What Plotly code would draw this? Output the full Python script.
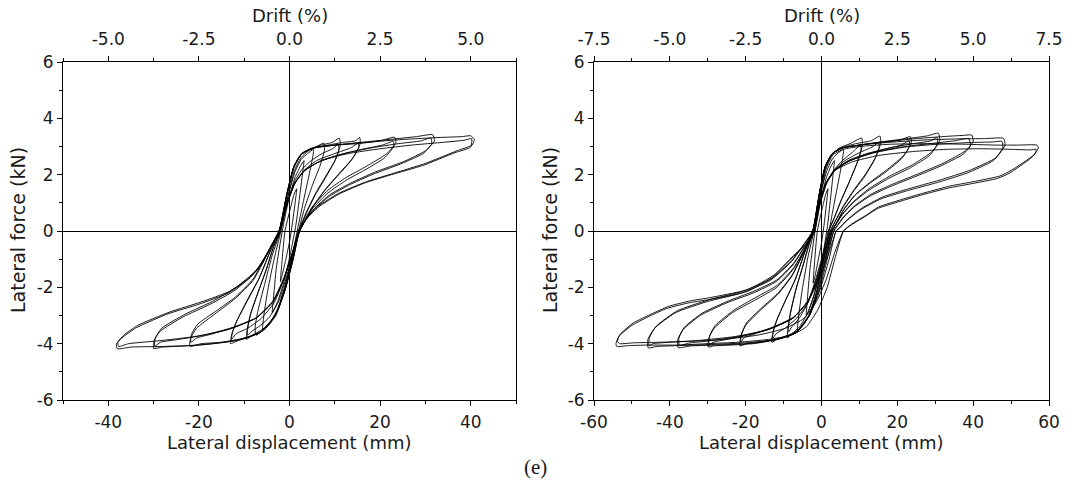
import plotly.graph_objects as go

# ---------------- Left specimen: hysteresis loops (displacement mm, force kN) ----------------
L1_x = [-1.0, 0.2, 1.0, 1.6, 1.4, 0.7, 0.1, -0.8, -1.6, -2.0, -1.8, -1.0]
L1_y = [0.0, 0.8, 1.3, 1.5, 1.2, 0.35, -0.3, -1.0, -1.55, -1.8, -1.35, 0.0]

L2_x = [-1.6, -0.2, 1.2, 2.4, 3.2, 3.0, 2.3, 1.4, 0.2, -1.2, -2.6, -3.8, -3.6, -2.9, -1.6]
L2_y = [0.0, 1.1, 1.9, 2.3, 2.5, 2.2, 1.3, 0.2, -0.8, -1.8, -2.5, -2.9, -2.5, -1.3, 0.0]

L3_x = [-1.9, -0.4, 1.2, 2.6, 4.0, 5.3, 5.1, 4.2, 3.0, 1.7, 0.4, -1.1, -2.7, -4.3, -5.9, -5.7, -4.8, -3.4, -1.9]
L3_y = [0.0, 1.2, 2.1, 2.55, 2.75, 2.9, 2.6, 1.9, 1.0, 0.0, -1.0, -2.0, -2.8, -3.25, -3.5, -3.05, -2.1, -1.0, 0.0]

L4_x = [-2.0, -0.5, 1.0, 2.5, 4.2, 6.0, 7.6, 7.7, 6.7, 5.0, 3.3, 2.0, 0.6, -0.9, -2.6, -4.4, -6.1, -7.4, -7.6, -7.0, -5.5, -3.8, -2.0]
L4_y = [0.0, 1.1, 2.1, 2.6, 2.85, 3.0, 3.12, 2.85, 2.3, 1.6, 0.8, 0.0, -1.0, -2.0, -2.8, -3.3, -3.55, -3.7, -3.45, -2.85, -1.9, -0.85, 0.0]

L5a_x = [-2.1, -0.6, 0.9, 2.5, 4.5, 7.0, 9.5, 11.0, 11.2, 10.2, 8.0, 5.8, 3.8, 2.0, 0.6, -0.8, -2.6, -4.5, -6.5, -8.3, -9.5, -9.4, -8.7, -7.2, -5.4, -3.6, -2.1]
L5a_y = [0.0, 1.2, 2.2, 2.7, 2.9, 3.05, 3.15, 3.3, 3.05, 2.55, 1.95, 1.35, 0.7, 0.0, -0.9, -1.9, -2.8, -3.3, -3.55, -3.7, -3.85, -3.55, -3.0, -2.3, -1.5, -0.6, 0.0]
L5b_x = [-2.0, -0.5, 1.1, 2.8, 4.8, 7.2, 9.5, 10.8, 10.9, 9.9, 7.8, 5.6, 3.7, 2.1, 0.8, -0.6, -2.4, -4.4, -6.4, -8.2, -9.3, -9.2, -8.5, -7.0, -5.2, -3.5, -2.0]
L5b_y = [0.0, 1.0, 1.75, 2.2, 2.5, 2.75, 2.92, 3.08, 2.9, 2.45, 1.85, 1.25, 0.62, 0.0, -0.75, -1.6, -2.5, -3.05, -3.35, -3.55, -3.7, -3.45, -2.9, -2.2, -1.4, -0.55, 0.0]

L6a_x = [-2.2, -0.6, 1.0, 2.6, 5.0, 8.5, 12.0, 14.5, 15.5, 15.6, 14.0, 11.0, 8.0, 5.3, 3.2, 2.0, 0.6, -1.0, -3.0, -5.5, -8.5, -11.5, -13.0, -12.8, -11.8, -9.5, -6.8, -4.2, -2.2]
L6a_y = [0.0, 1.3, 2.3, 2.75, 2.95, 3.05, 3.15, 3.2, 3.32, 3.1, 2.6, 2.05, 1.5, 0.9, 0.3, 0.0, -1.0, -2.1, -3.0, -3.5, -3.75, -3.9, -4.0, -3.7, -3.25, -2.5, -1.7, -0.7, 0.0]
L6b_x = [-2.2, -0.5, 1.2, 3.2, 6.0, 10.0, 13.5, 15.2, 15.3, 13.6, 10.6, 7.6, 5.0, 3.0, 2.1, 0.6, -1.2, -3.4, -6.2, -9.2, -11.8, -12.8, -12.6, -11.5, -9.2, -6.6, -4.1, -2.2]
L6b_y = [0.0, 0.95, 1.7, 2.15, 2.5, 2.75, 2.95, 3.12, 2.95, 2.5, 1.95, 1.4, 0.82, 0.25, 0.0, -0.8, -1.7, -2.55, -3.1, -3.45, -3.65, -3.85, -3.6, -3.15, -2.45, -1.65, -0.65, 0.0]

L7a_x = [-2.3, -0.6, 1.0, 2.8, 5.5, 10.0, 15.0, 20.0, 23.2, 23.5, 21.5, 17.0, 12.5, 8.5, 5.0, 3.0, 2.1, 0.8, -1.0, -3.2, -6.0, -10.0, -15.0, -19.5, -22.0, -21.8, -20.5, -16.5, -12.0, -8.0, -5.0, -2.3]
L7a_y = [0.0, 1.3, 2.3, 2.75, 2.95, 3.05, 3.1, 3.2, 3.33, 3.15, 2.75, 2.3, 1.9, 1.45, 0.85, 0.3, 0.0, -1.0, -2.1, -3.0, -3.55, -3.8, -3.95, -4.0, -4.1, -3.8, -3.45, -2.95, -2.4, -1.75, -0.85, 0.0]
L7b_x = [-2.3, -0.6, 1.2, 3.3, 6.5, 11.0, 16.0, 20.5, 22.9, 23.0, 21.0, 17.0, 12.5, 8.5, 5.0, 3.0, 2.2, 0.6, -1.2, -3.5, -7.0, -12.0, -17.0, -20.5, -21.8, -21.6, -20.2, -16.3, -12.0, -8.0, -5.0, -2.3]
L7b_y = [0.0, 0.95, 1.7, 2.15, 2.45, 2.7, 2.9, 3.05, 3.18, 3.0, 2.6, 2.2, 1.8, 1.35, 0.78, 0.25, 0.0, -0.8, -1.7, -2.5, -3.05, -3.4, -3.65, -3.8, -3.95, -3.65, -3.3, -2.85, -2.35, -1.7, -0.8, 0.0]

L8a_x = [-2.3, -0.6, 1.0, 2.8, 5.5, 10.0, 16.0, 22.0, 28.0, 31.6, 32.0, 30.0, 25.0, 19.0, 13.5, 9.0, 5.2, 3.0, 2.2, 0.8, -1.0, -3.2, -6.5, -11.0, -17.0, -23.0, -28.0, -30.0, -29.8, -28.5, -23.5, -17.5, -12.0, -7.5, -4.5, -2.3]
L8a_y = [0.0, 1.3, 2.3, 2.75, 2.95, 3.05, 3.15, 3.25, 3.35, 3.42, 3.2, 2.85, 2.45, 2.1, 1.7, 1.3, 0.75, 0.25, 0.0, -1.0, -2.1, -3.0, -3.6, -3.85, -4.0, -4.08, -4.12, -4.17, -3.85, -3.55, -3.05, -2.6, -2.1, -1.45, -0.7, 0.0]
L8b_x = [-2.3, -0.6, 1.2, 3.4, 7.0, 12.0, 18.0, 24.0, 29.0, 31.2, 31.4, 29.5, 24.5, 18.5, 13.0, 8.7, 5.0, 2.9, 2.2, 0.6, -1.3, -3.7, -7.5, -13.0, -19.0, -24.5, -28.5, -29.8, -29.6, -28.2, -23.0, -17.0, -11.8, -7.4, -4.4, -2.3]
L8b_y = [0.0, 0.95, 1.7, 2.15, 2.5, 2.75, 2.95, 3.1, 3.2, 3.3, 3.1, 2.75, 2.38, 2.02, 1.62, 1.22, 0.7, 0.22, 0.0, -0.8, -1.7, -2.5, -3.1, -3.45, -3.7, -3.85, -3.95, -4.1, -3.8, -3.45, -2.95, -2.5, -2.0, -1.4, -0.65, 0.0]

L9a_x = [-2.3, -0.6, 1.0, 2.8, 5.5, 10.0, 17.0, 25.0, 33.0, 38.0, 40.0, 40.8, 40.3, 37.0, 30.0, 23.0, 17.0, 11.0, 6.5, 3.8, 2.2, 0.8, -1.0, -3.2, -6.5, -12.0, -20.0, -28.0, -35.0, -38.0, -38.2, -37.0, -34.0, -27.0, -20.0, -13.5, -9.0, -6.0, -3.8, -2.3]
L9a_y = [0.0, 1.3, 2.3, 2.75, 2.95, 3.05, 3.15, 3.25, 3.32, 3.35, 3.38, 3.25, 3.05, 2.85, 2.4, 2.05, 1.75, 1.35, 0.9, 0.45, 0.0, -1.0, -2.1, -3.0, -3.6, -3.9, -4.05, -4.1, -4.12, -4.18, -4.0, -3.8, -3.45, -2.95, -2.6, -2.2, -1.7, -1.15, -0.45, 0.0]
L9b_x = [-2.3, -0.6, 1.2, 3.4, 7.0, 13.0, 20.0, 27.0, 34.0, 38.5, 40.2, 40.0, 36.5, 29.5, 22.5, 16.5, 10.8, 6.4, 3.7, 2.3, 0.6, -1.3, -3.7, -7.5, -13.5, -21.0, -29.0, -35.5, -37.7, -37.9, -36.6, -33.5, -26.5, -19.5, -13.2, -8.8, -5.9, -3.7, -2.3]
L9b_y = [0.0, 0.95, 1.7, 2.15, 2.5, 2.75, 2.92, 3.05, 3.15, 3.22, 3.28, 2.98, 2.78, 2.33, 2.0, 1.7, 1.3, 0.85, 0.42, 0.0, -0.8, -1.7, -2.5, -3.1, -3.5, -3.75, -3.9, -4.0, -4.1, -3.95, -3.7, -3.35, -2.88, -2.52, -2.14, -1.65, -1.1, -0.42, 0.0]

# ---------------- Right specimen: hysteresis loops ----------------
R1_x = [-1.1, 0.2, 1.1, 1.7, 1.5, 0.8, 0.1, -0.9, -1.7, -2.2, -2.0, -1.1]
R1_y = [0.0, 0.8, 1.3, 1.5, 1.2, 0.35, -0.35, -1.05, -1.6, -1.85, -1.4, 0.0]

R2_x = [-1.7, -0.2, 1.3, 2.5, 3.4, 3.2, 2.5, 1.6, 0.3, -1.2, -2.7, -4.0, -3.8, -3.0, -1.7]
R2_y = [0.0, 1.1, 1.9, 2.3, 2.5, 2.2, 1.3, 0.2, -0.9, -1.9, -2.6, -3.0, -2.55, -1.3, 0.0]

R3_x = [-2.0, -0.4, 1.3, 2.8, 4.2, 5.8, 5.6, 4.6, 3.3, 2.0, 0.5, -1.1, -2.8, -4.6, -6.3, -6.1, -5.1, -3.6, -2.0]
R3_y = [0.0, 1.2, 2.1, 2.55, 2.75, 2.9, 2.6, 1.85, 0.95, 0.0, -1.05, -2.05, -2.9, -3.3, -3.55, -3.1, -2.1, -0.95, 0.0]

R4a_x = [-2.1, -0.5, 1.0, 2.7, 4.7, 7.5, 10.6, 10.8, 9.6, 7.5, 5.2, 3.3, 1.8, 0.3, -1.6, -3.6, -5.8, -7.8, -9.0, -8.9, -8.2, -6.8, -5.0, -3.4, -2.1]
R4a_y = [0.0, 1.2, 2.2, 2.7, 2.95, 3.1, 3.3, 3.05, 2.5, 1.8, 1.1, 0.45, 0.0, -1.0, -2.1, -2.9, -3.4, -3.65, -3.8, -3.5, -2.9, -2.1, -1.3, -0.55, 0.0]
R4b_x = [-2.1, -0.4, 1.3, 3.2, 5.5, 8.2, 10.3, 10.4, 9.2, 7.2, 5.0, 3.2, 1.9, 0.4, -1.5, -3.6, -5.9, -7.8, -8.8, -8.7, -8.0, -6.6, -4.9, -3.4, -2.1]
R4b_y = [0.0, 0.95, 1.7, 2.15, 2.5, 2.8, 3.05, 2.85, 2.35, 1.7, 1.02, 0.4, 0.0, -0.8, -1.7, -2.55, -3.1, -3.4, -3.6, -3.35, -2.8, -2.0, -1.22, -0.5, 0.0]

R5a_x = [-2.2, -0.6, 1.0, 2.8, 5.2, 9.0, 13.0, 15.4, 15.6, 14.2, 11.5, 8.5, 5.8, 3.6, 2.3, 0.6, -1.2, -3.3, -6.0, -9.0, -11.8, -13.1, -12.9, -11.9, -9.6, -7.0, -4.4, -2.2]
R5a_y = [0.0, 1.3, 2.3, 2.75, 2.95, 3.1, 3.2, 3.37, 3.12, 2.6, 2.0, 1.45, 0.9, 0.35, 0.0, -1.0, -2.1, -3.0, -3.5, -3.75, -3.85, -3.95, -3.65, -3.2, -2.5, -1.75, -0.75, 0.0]
R5b_x = [-2.2, -0.5, 1.2, 3.3, 6.2, 10.0, 13.6, 15.1, 15.2, 13.8, 11.2, 8.3, 5.6, 3.5, 2.4, 0.6, -1.3, -3.6, -6.6, -9.6, -12.0, -12.9, -12.7, -11.6, -9.3, -6.8, -4.3, -2.2]
R5b_y = [0.0, 0.95, 1.7, 2.15, 2.5, 2.78, 3.0, 3.15, 2.95, 2.48, 1.9, 1.38, 0.82, 0.3, 0.0, -0.8, -1.7, -2.55, -3.1, -3.45, -3.65, -3.82, -3.55, -3.1, -2.4, -1.68, -0.7, 0.0]

R6a_x = [-2.3, -0.6, 1.0, 2.9, 5.6, 10.0, 15.5, 20.5, 23.4, 23.7, 21.8, 17.5, 13.0, 9.0, 5.8, 3.8, 2.6, 1.0, -1.0, -3.4, -6.5, -11.0, -16.0, -19.8, -21.5, -21.3, -20.0, -16.0, -11.5, -7.8, -4.8, -2.3]
R6a_y = [0.0, 1.3, 2.3, 2.75, 2.95, 3.05, 3.15, 3.22, 3.35, 3.15, 2.7, 2.2, 1.75, 1.3, 0.75, 0.25, 0.0, -1.0, -2.1, -3.0, -3.55, -3.8, -3.95, -4.0, -4.08, -3.75, -3.35, -2.8, -2.25, -1.6, -0.8, 0.0]
R6b_x = [-2.3, -0.6, 1.2, 3.4, 6.8, 11.5, 16.5, 21.0, 23.1, 23.2, 21.2, 17.0, 12.6, 8.7, 5.6, 3.7, 2.7, 0.9, -1.2, -3.7, -7.3, -12.5, -17.5, -20.5, -21.3, -21.1, -19.7, -15.7, -11.3, -7.7, -4.7, -2.3]
R6b_y = [0.0, 0.95, 1.7, 2.15, 2.45, 2.7, 2.9, 3.05, 3.2, 3.0, 2.58, 2.1, 1.68, 1.25, 0.7, 0.22, 0.0, -0.8, -1.7, -2.5, -3.05, -3.4, -3.65, -3.8, -3.95, -3.65, -3.25, -2.72, -2.18, -1.55, -0.75, 0.0]

R7a_x = [-2.3, -0.6, 1.0, 2.9, 5.6, 10.0, 16.0, 22.5, 28.0, 30.8, 31.2, 29.0, 24.0, 18.0, 12.5, 8.5, 5.5, 3.6, 2.8, 1.2, -0.8, -3.2, -6.6, -11.5, -18.0, -24.0, -28.5, -29.9, -29.7, -28.3, -23.5, -17.5, -11.8, -7.4, -4.4, -2.3]
R7a_y = [0.0, 1.3, 2.3, 2.75, 2.95, 3.05, 3.17, 3.28, 3.38, 3.47, 3.22, 2.8, 2.35, 1.95, 1.5, 1.05, 0.6, 0.2, 0.0, -1.0, -2.1, -3.0, -3.6, -3.85, -4.0, -4.05, -4.08, -4.12, -3.8, -3.45, -2.9, -2.45, -2.0, -1.35, -0.65, 0.0]
R7b_x = [-2.3, -0.6, 1.2, 3.4, 7.0, 12.0, 18.0, 24.0, 28.8, 30.5, 30.6, 28.5, 23.5, 17.6, 12.2, 8.3, 5.4, 3.6, 2.9, 1.1, -1.0, -3.6, -7.6, -13.5, -19.5, -25.0, -28.6, -29.7, -29.5, -28.0, -23.0, -17.2, -11.6, -7.3, -4.3, -2.3]
R7b_y = [0.0, 0.95, 1.7, 2.15, 2.5, 2.75, 2.95, 3.1, 3.2, 3.32, 3.08, 2.68, 2.25, 1.86, 1.42, 1.0, 0.56, 0.18, 0.0, -0.8, -1.7, -2.5, -3.1, -3.45, -3.7, -3.85, -3.95, -4.05, -3.72, -3.35, -2.8, -2.35, -1.92, -1.3, -0.6, 0.0]

R8a_x = [-2.3, -0.6, 1.0, 2.9, 5.6, 10.0, 17.0, 25.0, 33.0, 38.0, 39.6, 40.0, 38.0, 32.0, 25.0, 18.5, 13.0, 8.8, 5.8, 3.9, 3.2, 1.5, -0.6, -3.2, -6.6, -12.0, -20.0, -28.0, -34.5, -37.8, -37.9, -36.5, -32.0, -25.0, -18.0, -12.0, -7.5, -4.4, -2.3]
R8a_y = [0.0, 1.3, 2.3, 2.75, 2.95, 3.05, 3.17, 3.28, 3.36, 3.4, 3.41, 3.18, 2.85, 2.4, 2.0, 1.65, 1.3, 0.9, 0.5, 0.15, 0.0, -1.0, -2.1, -3.0, -3.6, -3.85, -4.0, -4.05, -4.08, -4.14, -3.85, -3.5, -3.0, -2.55, -2.2, -1.8, -1.2, -0.55, 0.0]
R8b_x = [-2.3, -0.6, 1.2, 3.5, 7.5, 13.5, 21.0, 28.5, 35.0, 38.8, 39.3, 37.3, 31.3, 24.5, 18.2, 12.8, 8.6, 5.7, 3.9, 3.3, 1.4, -0.8, -3.6, -7.6, -14.0, -22.0, -29.5, -35.0, -37.5, -37.6, -36.2, -31.5, -24.5, -17.7, -11.8, -7.4, -4.3, -2.3]
R8b_y = [0.0, 0.95, 1.7, 2.15, 2.5, 2.78, 2.98, 3.1, 3.2, 3.28, 3.02, 2.72, 2.3, 1.92, 1.58, 1.24, 0.85, 0.46, 0.12, 0.0, -0.8, -1.7, -2.5, -3.1, -3.5, -3.75, -3.9, -3.98, -4.06, -3.8, -3.42, -2.92, -2.48, -2.13, -1.74, -1.15, -0.5, 0.0]

R9a_x = [-2.3, -0.6, 1.0, 2.9, 5.6, 10.0, 18.0, 27.0, 36.0, 43.0, 48.0, 48.4, 46.0, 39.0, 31.0, 23.0, 16.0, 10.5, 6.8, 4.6, 3.8, 2.0, -0.4, -3.2, -6.6, -12.0, -20.0, -29.0, -38.0, -43.5, -45.7, -45.8, -44.0, -38.5, -30.0, -21.0, -13.5, -8.0, -4.5, -2.3]
R9a_y = [0.0, 1.3, 2.3, 2.75, 2.95, 3.05, 3.15, 3.23, 3.27, 3.28, 3.29, 3.05, 2.6, 2.15, 1.8, 1.5, 1.2, 0.8, 0.4, 0.1, 0.0, -1.0, -2.1, -3.0, -3.6, -3.85, -3.97, -4.03, -4.07, -4.1, -4.15, -3.85, -3.45, -2.9, -2.5, -2.2, -1.75, -1.1, -0.45, 0.0]
R9b_x = [-2.3, -0.6, 1.2, 3.5, 7.5, 14.0, 22.0, 30.5, 39.0, 45.0, 47.6, 47.8, 45.3, 38.4, 30.5, 22.6, 15.7, 10.3, 6.7, 4.6, 3.9, 1.9, -0.6, -3.6, -7.6, -14.0, -23.0, -32.0, -40.0, -44.5, -45.5, -45.4, -43.6, -38.0, -29.6, -20.8, -13.3, -7.9, -4.4, -2.3]
R9b_y = [0.0, 0.95, 1.7, 2.15, 2.5, 2.78, 2.98, 3.08, 3.14, 3.16, 3.18, 2.95, 2.5, 2.06, 1.72, 1.43, 1.14, 0.75, 0.37, 0.08, 0.0, -0.8, -1.7, -2.5, -3.1, -3.5, -3.75, -3.88, -3.95, -4.0, -4.08, -3.8, -3.38, -2.83, -2.44, -2.14, -1.7, -1.06, -0.42, 0.0]

R10a_x = [-1.8, -0.4, 1.2, 3.0, 5.8, 10.0, 18.0, 28.0, 38.0, 46.0, 52.0, 56.8, 57.2, 56.0, 50.0, 47.0, 40.0, 34.0, 27.0, 20.7, 15.0, 11.9, 8.0, 5.8, 3.5, 1.5, -1.0, -4.0, -8.0, -14.0, -22.0, -30.0, -38.0, -46.0, -51.0, -54.0, -54.2, -53.5, -50.0, -45.0, -40.8, -35.0, -30.3, -19.7, -12.7, -7.4, -3.0, -1.8]
R10a_y = [0.0, 1.2, 2.2, 2.7, 2.9, 3.0, 3.08, 3.1, 3.08, 3.05, 3.05, 3.05, 2.95, 2.7, 2.15, 1.95, 1.75, 1.6, 1.35, 1.1, 0.85, 0.57, 0.25, 0.0, -1.0, -2.0, -2.8, -3.4, -3.7, -3.85, -3.95, -4.0, -4.05, -4.05, -4.07, -4.1, -4.0, -3.75, -3.35, -3.0, -2.75, -2.55, -2.45, -2.15, -1.62, -0.91, -0.32, 0.0]
R10b_x = [-1.8, -0.4, 1.4, 3.6, 8.0, 15.0, 24.0, 33.0, 42.0, 50.0, 55.0, 56.6, 56.5, 55.2, 49.5, 46.5, 39.6, 33.6, 26.7, 20.4, 14.8, 11.7, 7.9, 5.8, 3.4, 1.3, -1.3, -4.6, -9.5, -17.0, -26.0, -35.0, -43.0, -49.5, -53.2, -53.8, -53.2, -49.7, -44.6, -40.4, -34.6, -30.0, -19.5, -12.5, -7.3, -3.0, -1.8]
R10b_y = [0.0, 0.95, 1.7, 2.15, 2.45, 2.68, 2.82, 2.9, 2.92, 2.9, 2.88, 2.9, 2.78, 2.58, 2.05, 1.87, 1.68, 1.53, 1.29, 1.04, 0.8, 0.53, 0.22, 0.0, -0.8, -1.7, -2.5, -3.1, -3.45, -3.7, -3.85, -3.92, -3.95, -3.97, -4.0, -3.92, -3.68, -3.27, -2.93, -2.68, -2.48, -2.38, -2.08, -1.56, -0.86, -0.3, 0.0]

left_loops_x = [L1_x, L2_x, L3_x, L4_x, L5a_x, L5b_x, L6a_x, L6b_x, L7a_x, L7b_x, L8a_x, L8b_x, L9a_x, L9b_x]
left_loops_y = [L1_y, L2_y, L3_y, L4_y, L5a_y, L5b_y, L6a_y, L6b_y, L7a_y, L7b_y, L8a_y, L8b_y, L9a_y, L9b_y]
right_loops_x = [R1_x, R2_x, R3_x, R4a_x, R4b_x, R5a_x, R5b_x, R6a_x, R6b_x, R7a_x, R7b_x, R8a_x, R8b_x, R9a_x, R9b_x, R10a_x, R10b_x]
right_loops_y = [R1_y, R2_y, R3_y, R4a_y, R4b_y, R5a_y, R5b_y, R6a_y, R6b_y, R7a_y, R7b_y, R8a_y, R8b_y, R9a_y, R9b_y, R10a_y, R10b_y]

# axis ranges / ticks (labels use the plain hyphen, as in the original)
left_disp_range = [-50, 50]
right_disp_range = [-60, 60]
force_range = [-6, 6]
left_drift_range = [-6.25, 6.25]
right_drift_range = [-7.5, 7.5]

left_disp_ticks = [-40, -20, 0, 20, 40]
left_disp_labels = ["-40", "-20", "0", "20", "40"]
right_disp_ticks = [-60, -40, -20, 0, 20, 40, 60]
right_disp_labels = ["-60", "-40", "-20", "0", "20", "40", "60"]
force_ticks = [-6, -4, -2, 0, 2, 4, 6]
force_labels = ["-6", "-4", "-2", "0", "2", "4", "6"]
left_drift_ticks = [-5.0, -2.5, 0.0, 2.5, 5.0]
left_drift_labels = ["-5.0", "-2.5", "0.0", "2.5", "5.0"]
right_drift_ticks = [-7.5, -5.0, -2.5, 0.0, 2.5, 5.0, 7.5]
right_drift_labels = ["-7.5", "-5.0", "-2.5", "0.0", "2.5", "5.0", "7.5"]

W, H = 1075, 494
TXT = "#1a1a1a"
FONT = "DejaVu Sans, Liberation Sans, Arial, sans-serif"

fig = go.Figure()

for xs, ys in zip(left_loops_x, left_loops_y):
    fig.add_trace(go.Scatter(x=xs, y=ys, mode="lines", xaxis="x", yaxis="y",
                             line=dict(color="black", width=0.9, shape="spline", smoothing=0.5),
                             hoverinfo="skip", showlegend=False))
for xs, ys in zip(right_loops_x, right_loops_y):
    fig.add_trace(go.Scatter(x=xs, y=ys, mode="lines", xaxis="x2", yaxis="y2",
                             line=dict(color="black", width=0.9, shape="spline", smoothing=0.5),
                             hoverinfo="skip", showlegend=False))
# invisible carriers so the top drift axes are drawn
fig.add_trace(go.Scatter(x=left_drift_range, y=[0, 0], xaxis="x3", yaxis="y", mode="lines",
                         opacity=0, hoverinfo="skip", showlegend=False))
fig.add_trace(go.Scatter(x=right_drift_range, y=[0, 0], xaxis="x4", yaxis="y2", mode="lines",
                         opacity=0, hoverinfo="skip", showlegend=False))


def px_x(p):
    return p / W


def px_y(p):
    return 1 - p / H


tickfont = dict(family=FONT, size=17, color=TXT)
common = dict(showgrid=False, showline=True, linecolor="black", linewidth=1,
              ticks="outside", ticklen=5, tickwidth=1, tickcolor="black",
              tickfont=tickfont, fixedrange=True, tickmode="array", automargin=False)
minor_common = dict(ticks="outside", ticklen=3, tickwidth=1, tickcolor="black", showgrid=False)

ydom = [px_y(400), px_y(62)]
ldom = [px_x(63), px_x(516)]
rdom = [px_x(594), px_x(1049)]

fig.update_layout(
    width=W, height=H,
    margin=dict(l=0, r=0, t=0, b=0, autoexpand=False),
    paper_bgcolor="white", plot_bgcolor="white",
    xaxis=dict(domain=ldom, range=left_disp_range, anchor="y",
               tickvals=left_disp_ticks, ticktext=left_disp_labels, ticklabelstandoff=2,
               zeroline=True, zerolinecolor="black", zerolinewidth=1,
               minor=dict(dtick=10, tick0=0, **minor_common), **common),
    yaxis=dict(domain=ydom, range=force_range, anchor="x", mirror=True,
               tickvals=force_ticks, ticktext=force_labels,
               zeroline=True, zerolinecolor="black", zerolinewidth=1,
               minor=dict(dtick=1, tick0=0, **minor_common), **common),
    xaxis2=dict(domain=rdom, range=right_disp_range, anchor="y2",
                tickvals=right_disp_ticks, ticktext=right_disp_labels, ticklabelstandoff=2,
                zeroline=True, zerolinecolor="black", zerolinewidth=1,
                minor=dict(dtick=10, tick0=0, **minor_common), **common),
    yaxis2=dict(domain=ydom, range=force_range, anchor="x2", mirror=True,
                tickvals=force_ticks, ticktext=force_labels,
                zeroline=True, zerolinecolor="black", zerolinewidth=1,
                minor=dict(dtick=1, tick0=0, **minor_common), **common),
    xaxis3=dict(overlaying="x", side="top", anchor="y", range=left_drift_range,
                tickvals=left_drift_ticks, ticktext=left_drift_labels, zeroline=False,
                ticklabelstandoff=4,
                minor=dict(dtick=1.25, tick0=0, **minor_common), **common),
    xaxis4=dict(overlaying="x2", side="top", anchor="y2", range=right_drift_range,
                tickvals=right_drift_ticks, ticktext=right_drift_labels, zeroline=False,
                ticklabelstandoff=4,
                minor=dict(dtick=1.25, tick0=0, **minor_common), **common),
)

title_font = dict(family=FONT, size=18, color=TXT)
annots = []
for cx in [(63 + 516) / 2, (594 + 1049) / 2]:
    annots.append(dict(text="Drift (%)", x=px_x(cx), y=px_y(15), xref="paper", yref="paper",
                       showarrow=False, font=title_font, xanchor="center", yanchor="middle"))
    annots.append(dict(text="Lateral displacement (mm)", x=px_x(cx), y=px_y(442), xref="paper",
                       yref="paper", showarrow=False, font=title_font, xanchor="center", yanchor="middle"))
for cx in [18, 550]:
    annots.append(dict(text="Lateral force (kN)", x=px_x(cx), y=px_y(230), xref="paper", yref="paper",
                       showarrow=False, font=dict(family=FONT, size=19, color=TXT), textangle=-90,
                       xanchor="center", yanchor="middle"))
annots.append(dict(text="(e)", x=px_x(535), y=px_y(467), xref="paper", yref="paper", showarrow=False,
                   font=dict(family="Liberation Serif, Times New Roman, serif", size=21, color=TXT),
                   xanchor="center", yanchor="middle"))
fig.update_layout(annotations=annots)

fig.write_html("out.html")
